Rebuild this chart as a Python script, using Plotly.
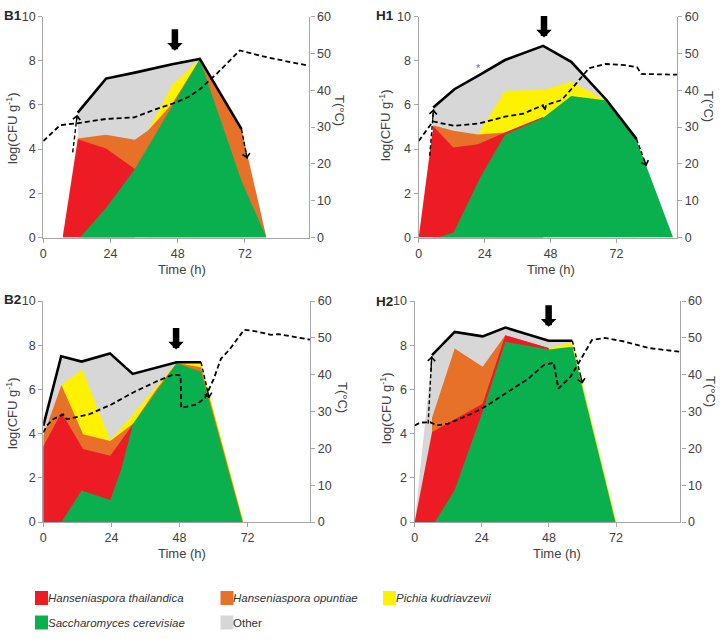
import plotly.graph_objects as go

# ---------------- data ----------------
# Each species series gives the upper boundary of its coloured layer (log CFU/g)
# B1
B1_OTHER_T = [12.3, 22.4, 32.7, 46.0, 55.9, 70.8]
B1_OTHER = [5.65, 7.19, 7.46, 7.84, 8.08, 4.90]
B1_PK_T = [37.5, 46.0, 55.9]
B1_PK = [4.85, 6.90, 8.06]
B1_HO_T = [12.3, 22.4, 32.7, 37.5, 46.0, 55.9, 70.8, 79.7]
B1_HO = [4.48, 4.65, 4.42, 4.85, 6.05, 8.06, 4.90, 0.0]
B1_HT_T = [6.9, 12.3, 22.4, 32.7]
B1_HT = [0.0, 4.45, 4.03, 3.10]
B1_SC_T = [13.1, 22.4, 32.7, 46.0, 55.9, 70.8, 79.7]
B1_SC = [0.0, 1.33, 3.10, 5.95, 8.06, 2.56, 0.0]
B1_TEMP_T = [0, 6, 12, 22.5, 32.5, 40, 47.5, 52, 56, 62, 70.2, 80, 95]
B1_TEMP = [26.2, 30.5, 31.0, 32.2, 32.6, 34.8, 36.7, 38.2, 40.3, 44.5, 50.8, 48.9, 46.6]
B1_START = [[10.5, 12.1], [3.85, 5.55]]
B1_END = [[70.8, 72.8], [4.90, 3.57]]
B1_TURN = [47.0, 8.45]

# H1
H1_OTHER_T = [5.3, 13.0, 22.5, 31.4, 45.3, 55.5, 68.5, 79.3]
H1_OTHER = [5.88, 6.71, 7.38, 8.03, 8.67, 7.95, 6.20, 4.45]
H1_PK_T = [21.6, 31.4, 45.3, 55.5, 66.0, 68.5]
H1_PK = [4.66, 6.64, 6.67, 7.05, 6.35, 6.20]
H1_HO_T = [5.3, 12.6, 21.6, 31.4, 45.3]
H1_HO = [5.08, 4.83, 4.66, 4.75, 5.45]
H1_HT_T = [0.0, 5.3, 12.6, 21.6, 31.4, 45.3]
H1_HT = [0.0, 5.03, 4.07, 4.22, 4.75, 5.45]
H1_SC_T = [7.0, 12.7, 22.4, 31.4, 45.3, 55.5, 68.5, 79.3, 92.6]
H1_SC = [0.0, 0.23, 2.71, 4.65, 5.42, 6.40, 6.20, 4.40, 0.0]
H1_TEMP_T = [0, 5.2, 13, 22, 31.3, 38, 45.2, 45.8, 46.4, 52, 57, 62, 68, 75, 79.5, 81, 94]
H1_TEMP = [26.2, 31.5, 30.3, 31.0, 32.8, 33.6, 35.9, 34.4, 36.0, 37.3, 41.5, 46.0, 47.1,
           46.8, 46.2, 44.4, 44.2]
H1_START = [[4.0, 5.4], [3.7, 5.8]]
H1_END = [[79.3, 82.9], [4.45, 3.24]]
H1_TURN = [45.6, 9.05]
H1_STAR = [21.8, 7.69]

# B2
B2_OTHER_T = [0.0, 6.3, 13.5, 23.5, 31.5, 47.0, 55.6]
B2_OTHER = [4.35, 7.50, 7.26, 7.63, 6.70, 7.23, 7.23]
B2_PK_T = [6.4, 13.7, 23.6, 31.6, 47.0, 55.6, 70.6]
B2_PK = [6.20, 6.90, 3.70, 4.87, 7.22, 7.20, 0.0]
B2_HO_T = [0.0, 6.4, 14.0, 23.6, 31.6, 39.8, 47.0, 55.6, 70.4]
B2_HO = [3.90, 6.20, 3.97, 3.67, 4.45, 6.00, 7.20, 7.00, 0.0]
B2_HT_T = [0.0, 6.4, 14.0, 23.6, 31.6]
B2_HT = [3.42, 4.95, 3.30, 3.00, 4.42]
B2_SC_T = [6.4, 13.5, 23.6, 27.5, 31.6, 47.0, 55.6, 70.2]
B2_SC = [0.0, 1.42, 1.00, 2.40, 4.42, 7.18, 6.80, 0.0]
B2_TEMP_T = [0, 1.2, 3.5, 7, 8.2, 16, 24, 32, 40, 45.7, 48.4, 48.6, 54, 57, 60, 62.6, 65.6,
             70.8, 75.5, 80.2, 83, 94]
B2_TEMP = [24.3, 26.1, 27.9, 29.2, 27.9, 29.2, 31.9, 35.3, 38.2, 40.0, 39.8, 31.0, 31.9, 33.7,
           38.7, 44.3, 46.8, 52.2, 51.7, 50.8, 51.0, 49.5]
B2_START = None
B2_END = [[55.6, 58.5], [7.23, 5.6]]
B2_TURN = [46.8, 7.8]

# H2
H2_OTHER_T = [0.0, 6.2, 14.3, 24.3, 32.4, 47.9, 56.4]
H2_OTHER = [0.0, 7.55, 8.60, 8.40, 8.80, 8.20, 8.20]
H2_PK_T = [47.9, 56.4, 72.1]
H2_PK = [7.87, 8.12, 0.0]
H2_HO_T = [6.2, 14.3, 24.3, 32.4, 47.9]
H2_HO = [4.72, 7.85, 7.02, 8.45, 7.87]
H2_HT_T = [0.0, 6.2, 14.3, 24.3, 32.4, 47.9]
H2_HT = [0.0, 4.06, 4.65, 5.35, 8.45, 7.87]
H2_SC_T = [7.2, 14.3, 24.3, 32.4, 47.9, 56.4, 71.8]
H2_SC = [0.0, 1.45, 5.00, 8.15, 7.80, 7.93, 0.0]
H2_TEMP_T = [0, 2, 5.5, 8, 12, 16, 20.4, 25, 32.4, 40.8, 46, 49.7, 51.4, 55.7, 59.2, 63.4, 68,
             75, 84, 95]
H2_TEMP = [26.2, 27.0, 27.1, 26.2, 26.7, 28.0, 29.4, 31.2, 34.8, 39.0, 42.5, 43.3, 36.2, 39.4,
           43.9, 49.4, 50.0, 49.0, 47.2, 46.2]
H2_START = [[4.8, 6.1], [4.45, 7.5]]
H2_END = [[56.4, 60.0], [8.2, 6.26]]
H2_TURN = [47.9, 8.83]

X_TICKS = [0, 24, 48, 72]
Y_TICKS = [0, 2, 4, 6, 8, 10]
T_TICKS = [0, 10, 20, 30, 40, 50, 60]

LEGEND_NAMES = ["Hanseniaspora thailandica", "Hanseniaspora opuntiae", "Pichia kudriavzevii",
                "Saccharomyces cerevisiae", "Other"]
LEGEND_KEYS = ["HT", "HO", "PK", "SC", "OT"]
LEGEND_ITALIC = [True, True, True, True, False]

# ---------------- styling ----------------
W, H = 725, 639
FONT = "Liberation Sans, Arial, sans-serif"
TXT = "#404040"
AXC = "#A6A6A6"
COLORS = {"HT": "#ED1C24", "HO": "#E8712A", "PK": "#FFF200", "SC": "#0BB04E", "OT": "#D7D7D7"}


def px(x):
    return x / W


def py(y):
    return 1 - y / H


PANELS = [
    dict(name="B1", x0=43.3, x1=309.3, top=16.5, bot=237.5, xmax=95,
         series={"OT": (B1_OTHER_T, B1_OTHER), "PK": (B1_PK_T, B1_PK), "HO": (B1_HO_T, B1_HO),
                 "HT": (B1_HT_T, B1_HT), "SC": (B1_SC_T, B1_SC)},
         temp=(B1_TEMP_T, B1_TEMP), start=B1_START, end=B1_END, turn=B1_TURN,
         lab=(12.5, 15), ylab=(12, 128), xlab=(182, 269), tlab=(340, 110)),
    dict(name="H1", x0=418.7, x1=677, top=16.5, bot=237.5, xmax=94,
         series={"OT": (H1_OTHER_T, H1_OTHER), "PK": (H1_PK_T, H1_PK), "HO": (H1_HO_T, H1_HO),
                 "HT": (H1_HT_T, H1_HT), "SC": (H1_SC_T, H1_SC)},
         temp=(H1_TEMP_T, H1_TEMP), start=H1_START, end=H1_END, turn=H1_TURN,
         lab=(384.5, 15), ylab=(385, 125), xlab=(551, 269), tlab=(708, 106)),
    dict(name="B2", x0=43.3, x1=310, top=301, bot=522, xmax=94,
         series={"OT": (B2_OTHER_T, B2_OTHER), "PK": (B2_PK_T, B2_PK), "HO": (B2_HO_T, B2_HO),
                 "HT": (B2_HT_T, B2_HT), "SC": (B2_SC_T, B2_SC)},
         temp=(B2_TEMP_T, B2_TEMP), start=B2_START, end=B2_END, turn=B2_TURN,
         lab=(12.5, 299), ylab=(12, 413), xlab=(182, 553), tlab=(343, 397)),
    dict(name="H2", x0=414.7, x1=680.3, top=301, bot=522, xmax=95,
         series={"OT": (H2_OTHER_T, H2_OTHER), "PK": (H2_PK_T, H2_PK), "HO": (H2_HO_T, H2_HO),
                 "HT": (H2_HT_T, H2_HT), "SC": (H2_SC_T, H2_SC)},
         temp=(H2_TEMP_T, H2_TEMP), start=H2_START, end=H2_END, turn=H2_TURN,
         lab=(384.5, 301), ylab=(386, 408), xlab=(557, 553), tlab=(710, 391)),
]

fig = go.Figure()
layout = {}
annotations = []
shapes = []

tickfont = dict(family=FONT, size=12.5, color=TXT)


def paper_text(xy, text, size, angle=0, color=TXT, xanchor="center", family=FONT):
    return dict(x=px(xy[0]), y=py(xy[1]), xref="paper", yref="paper", text=text,
                textangle=angle, showarrow=False, xanchor=xanchor, yanchor="middle",
                borderpad=0, borderwidth=0, font=dict(family=family, size=size, color=color))


for i, p in enumerate(PANELS):
    xid = "x" if i == 0 else f"x{i+1}"
    yid = "y" if i == 0 else f"y{2*i+1}"
    y2id = f"y{2*i+2}"
    xname = "xaxis" if i == 0 else f"xaxis{i+1}"
    yname = "yaxis" if i == 0 else f"yaxis{2*i+1}"
    y2name = f"yaxis{2*i+2}"
    dom_x = [px(p["x0"]), px(p["x1"])]
    dom_y = [py(p["bot"]), py(p["top"])]
    common = dict(showgrid=False, zeroline=False, showline=True, linecolor=AXC, linewidth=1.4,
                  ticks="outside", ticklen=4, tickcolor=AXC, tickwidth=1.2, tickfont=tickfont,
                  automargin=False, fixedrange=True)
    layout[xname] = dict(domain=dom_x, anchor=yid, range=[0, p["xmax"]], tickmode="array",
                         tickvals=X_TICKS, **common)
    layout[yname] = dict(domain=dom_y, anchor=xid, range=[0, 10], tickmode="array",
                         tickvals=Y_TICKS, **common)
    layout[y2name] = dict(domain=dom_y, anchor=xid, overlaying=yid, side="right", range=[0, 60],
                          tickmode="array", tickvals=T_TICKS, **common)

    # stacked layers drawn back to front
    for key in ["OT", "PK", "HO", "HT", "SC"]:
        t, v = p["series"][key]
        fig.add_trace(go.Scatter(x=t, y=v, mode="lines", fill="tozeroy",
                                 fillcolor=COLORS[key], line=dict(width=0, color=COLORS[key]),
                                 xaxis=xid, yaxis=yid, hoverinfo="skip", showlegend=False))
    # total count line
    t, v = p["series"]["OT"]
    tt = [a for a, b in zip(t, v) if b > 0]
    vv = [b for b in v if b > 0]
    fig.add_trace(go.Scatter(x=tt, y=vv, mode="lines", line=dict(color="black", width=2.6),
                             xaxis=xid, yaxis=yid, hoverinfo="skip", showlegend=False))
    # start / end dashed arrows
    for seg in [p["start"], p["end"]]:
        if seg is None:
            continue
        fig.add_trace(go.Scatter(x=seg[0], y=seg[1], mode="lines",
                                 line=dict(color="black", width=1.4, dash="4px,2.5px"),
                                 xaxis=xid, yaxis=yid, hoverinfo="skip", showlegend=False))
        tx = seg[0][1] - 0.25 * (seg[0][1] - seg[0][0])
        ty = seg[1][1] - 0.25 * (seg[1][1] - seg[1][0])
        annotations.append(dict(x=seg[0][1], y=seg[1][1], ax=tx, ay=ty, xref=xid, yref=yid,
                                axref=xid, ayref=yid, text="", showarrow=True, arrowhead=4,
                                arrowsize=1.1, arrowwidth=1.3, arrowcolor="black", standoff=0))
    # temperature
    t, v = p["temp"]
    fig.add_trace(go.Scatter(x=t, y=v, mode="lines",
                             line=dict(color="black", width=1.8, dash="5px,3px"),
                             xaxis=xid, yaxis=y2id, hoverinfo="skip", showlegend=False))
    # turning arrow
    annotations.append(dict(x=p["turn"][0], y=p["turn"][1], xref=xid, yref=yid, ax=0, ay=-23,
                            text="", showarrow=True, arrowhead=1, arrowsize=0.4, arrowwidth=6.5,
                            arrowcolor="black", standoff=0))
    # labels
    annotations.append(paper_text(p["lab"], f"<b>{p['name']}</b>", 13.5, color="#262626"))
    annotations.append(paper_text(p["ylab"], "log(CFU g<sup>-1</sup>)", 13, angle=-90))
    annotations.append(paper_text(p["xlab"], "Time (h)", 13))
    annotations.append(paper_text(p["tlab"], "T(°C)", 13, angle=90))

# asterisk in H1
annotations.append(dict(x=H1_STAR[0], y=H1_STAR[1], xref="x2", yref="y3", text="*",
                        showarrow=False, font=dict(family=FONT, size=11, color="#707070")))

# legend (manual)
COL_X = [35, 220.5, 383]
ROW_Y = [598, 622.5]
for i, (name, key, it) in enumerate(zip(LEGEND_NAMES, LEGEND_KEYS, LEGEND_ITALIC)):
    r, c = divmod(i, 3)
    x0 = COL_X[c]
    yc = ROW_Y[r]
    shapes.append(dict(type="rect", xref="paper", yref="paper", x0=px(x0), x1=px(x0 + 13),
                       y0=py(yc + 7), y1=py(yc - 7), fillcolor=COLORS[key], line=dict(width=0)))
    txt = f"<i>{name}</i>" if it else name
    annotations.append(paper_text((x0 + 12.5, yc), txt, 11.5, color="#333333", xanchor="left"))

fig.update_layout(width=W, height=H, margin=dict(l=0, r=0, t=0, b=0, autoexpand=False),
                  paper_bgcolor="white", plot_bgcolor="white", showlegend=False,
                  annotations=annotations, shapes=shapes, **layout)

fig.write_html("out.html")
